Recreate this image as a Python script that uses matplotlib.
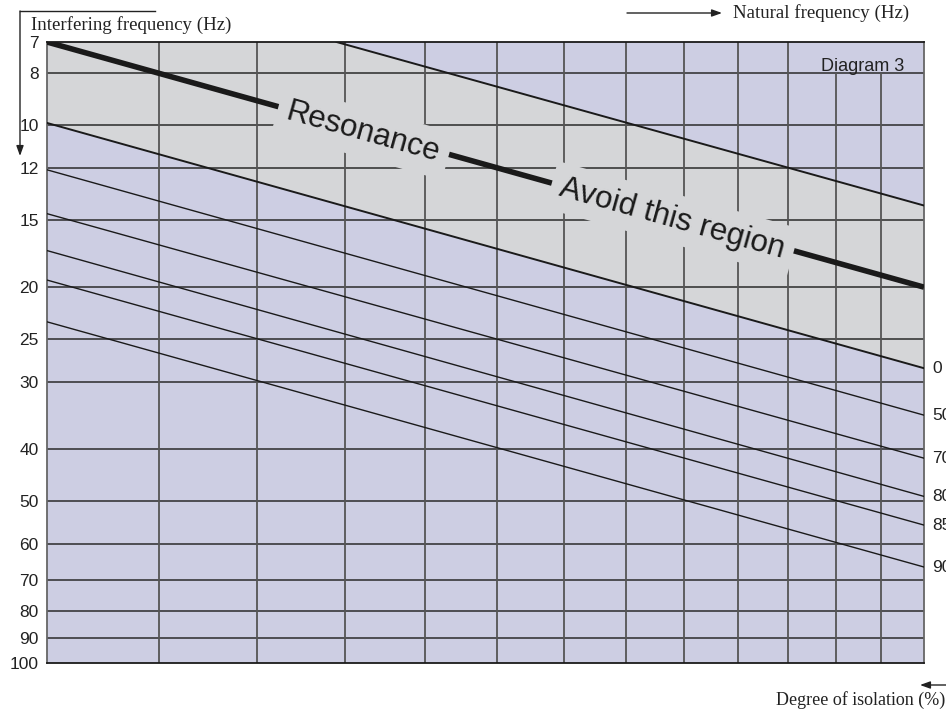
import numpy as np
import matplotlib
matplotlib.use('Agg')
import matplotlib.pyplot as plt

# natural frequency axis (Hz), log scale
fn_range = [7, 20]
fn_grid = [8, 9, 10, 11, 12, 13, 14, 15, 16, 17, 18, 19]

# interfering frequency axis (Hz), log scale, inverted
f_ticks = [7, 8, 10, 12, 15, 20, 25, 30, 40, 50, 60, 70, 80, 90, 100]

# resonance line and the edges of the region to avoid
res_fn = [7, 20]
res_f = [7, 20]
upper_fn = [9.9, 20]
upper_f = [7, 14.1]

# isolation lines: value at fn=7 and at fn=20
iso_labels = ['0', '50', '70', '80', '85', '90']
iso_start = [9.9, 12.1, 14.6, 17.1, 19.4, 23.2]
iso_end = [28.3, 34.6, 41.6, 49.0, 55.4, 66.3]

lavender = '#cdcee3'
grey = '#d5d6d8'
sans = 'Liberation Sans'
serif = 'Liberation Serif'

fig = plt.figure(figsize=(9.46, 7.11), dpi=100)
ax = fig.add_axes([47 / 946, 1 - 663 / 711, 877 / 946, 621 / 711])
ax.set_facecolor(lavender)
ax.set_xscale('log')
ax.set_yscale('log')
ax.set_xlim(fn_range)
ax.set_ylim(f_ticks[-1], f_ticks[0])
ax.xaxis.set_major_locator(matplotlib.ticker.NullLocator())
ax.xaxis.set_minor_locator(matplotlib.ticker.NullLocator())
ax.yaxis.set_minor_locator(matplotlib.ticker.NullLocator())
ax.set_yticks(f_ticks)
ax.set_yticklabels([str(v) for v in f_ticks], fontsize=12.5, family=sans, color='#222222')
ax.tick_params(axis='y', length=0, pad=6)

# region to avoid
poly_x = [fn_range[0], upper_fn[0], upper_fn[1], fn_range[1], fn_range[0]]
poly_y = [f_ticks[0], upper_f[0], upper_f[1], iso_end[0], iso_start[0]]
ax.fill(poly_x, poly_y, color=grey, zorder=1, lw=0)

# grid
ax.hlines(f_ticks[1:-1], fn_range[0], fn_range[1], colors='#2a2a2a', lw=1.1, zorder=2)
vmax = [f_ticks[0]] * 10 + [f_ticks[1]] * 2
ax.vlines(fn_grid, f_ticks[-1], vmax, colors='#555555', lw=1.3, zorder=2)

# lines
ax.plot(res_fn, res_f, color='#1a1a1a', lw=4, zorder=3, solid_capstyle='butt')
ax.plot(upper_fn, upper_f, color='#1a1a1a', lw=1.4, zorder=3)
for i, lab in enumerate(iso_labels):
    ax.plot(fn_range, [iso_start[i], iso_end[i]], color='#1a1a1a',
            lw=1.4 if i == 0 else 1.0, zorder=3)
    ax.annotate(lab, xy=(fn_range[1], iso_end[i]), xytext=(8, 0),
                textcoords='offset pixels', ha='left', va='center',
                fontsize=12.5, family=sans, color='#222222', annotation_clip=False)

for s in ['top', 'bottom']:
    ax.spines[s].set_color('#1a1a1a')
    ax.spines[s].set_linewidth(1.3)
for s in ['left', 'right']:
    ax.spines[s].set_color('#666666')
    ax.spines[s].set_linewidth(1.3)

# text along resonance line
p1 = ax.transData.transform((res_fn[0], res_f[0]))
p2 = ax.transData.transform((res_fn[1], res_f[1]))
ang = np.degrees(np.arctan2(p2[1] - p1[1], p2[0] - p1[0]))
box = dict(boxstyle='square,pad=0.3', facecolor=grey, edgecolor='none')
ax.text(10.22, 10.32, 'Resonance', rotation=ang, rotation_mode='anchor',
        ha='center', va='center', fontsize=22.5, family=sans, color='#1a1a1a',
        bbox=box, zorder=4)
ax.text(14.8, 14.9, 'Avoid this region', rotation=ang, rotation_mode='anchor',
        ha='center', va='center', fontsize=22.7, family=sans, color='#1a1a1a',
        bbox=box, zorder=4)

ax.text(0.978, 0.975, 'Diagram 3', transform=ax.transAxes, ha='right', va='top',
        fontsize=13, family=sans, color='#222222', zorder=4)

# axis captions with arrows
H = 711
arr = dict(arrowstyle='-|>,head_length=0.5,head_width=0.18', color='#222222',
           lw=1.0, shrinkA=0, shrinkB=0, mutation_scale=12)
fig.add_artist(plt.Line2D([20 / 946, 155 / 946], [1 - 11 / H, 1 - 11 / H],
                          color='#222222', lw=1.0))
ax.annotate('', xy=(20, H - 156), xytext=(20, H - 11), xycoords='figure pixels',
            textcoords='figure pixels', arrowprops=arr, annotation_clip=False)
fig.text(31 / 946, 1 - 25 / H, 'Interfering frequency (Hz)', ha='left', va='center',
         fontsize=13.6, family=serif, color='#222222')

ax.annotate('', xy=(722, H - 13), xytext=(627, H - 13), xycoords='figure pixels',
            textcoords='figure pixels', arrowprops=arr, annotation_clip=False)
fig.text(733 / 946, 1 - 13 / H, 'Natural frequency (Hz)', ha='left', va='center',
         fontsize=13.6, family=serif, color='#222222')

ax.annotate('', xy=(920, H - 685), xytext=(946, H - 685), xycoords='figure pixels',
            textcoords='figure pixels', arrowprops=arr, annotation_clip=False)
fig.text(945 / 946, 1 - 700 / H, 'Degree of isolation (%)', ha='right', va='center',
         fontsize=13, family=serif, color='#222222')

fig.savefig('out.png', dpi=100)
